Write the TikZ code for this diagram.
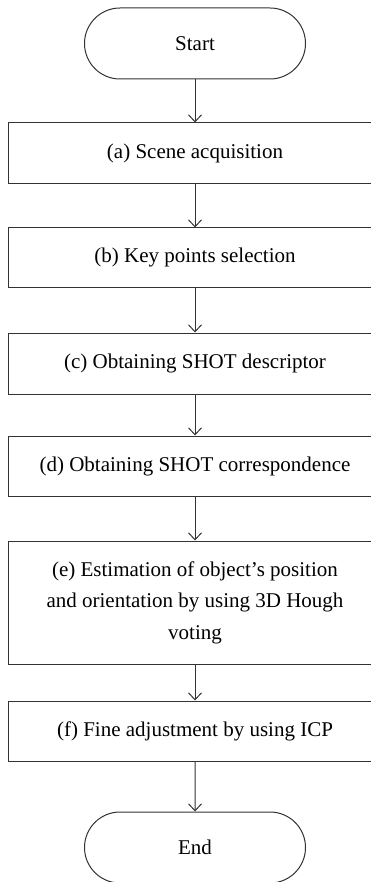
\documentclass[tikz,border=0pt]{standalone}
\usepackage{fontspec}
\setmainfont{Liberation Serif}
\usetikzlibrary{arrows.meta,shapes.misc}

\begin{document}
\begin{tikzpicture}[x=1pt,y=-1pt,font=\fontsize{21}{31.5}\selectfont,
    fase/.style={draw=black!80,line width=1pt,minimum width=374pt,inner sep=0pt,align=center},
    term/.style={draw=black!80,line width=1pt,rounded rectangle,minimum width=221pt,minimum height=71pt,inner sep=0pt},
    freccia/.style={draw=black!80,line width=1pt,-{Straight Barb[length=7pt,width=13pt]}}]
    \useasboundingbox (0,0) rectangle (371,882);
    \node [term] (S) at (195,43.5) {Start}; % inizio
    \node [fase,minimum height=61pt] (a) at (195,153.5) {(a) Scene acquisition};
    \node [fase,minimum height=59pt] (b) at (195,257.5) {(b) Key points selection};
    \node [fase,minimum height=61pt] (c) at (195,363.5) {(c) Obtaining SHOT descriptor};
    \node [fase,minimum height=60pt] (d) at (195,466) {(d) Obtaining SHOT correspondence};
    \node [fase,minimum height=123pt] (e) at (195,602.5)
          {(e) Estimation of object’s position\\and orientation by using 3D Hough\\voting};
    \node [fase,minimum height=60pt] (f) at (195,731) {(f) Fine adjustment by using ICP};
    \node [term] (E) at (195,847.5) {End}; % fine
    % frecce
    \draw [freccia] (S) -- (a);
    \draw [freccia] (a) -- (b);
    \draw [freccia] (b) -- (c);
    \draw [freccia] (c) -- (d);
    \draw [freccia] (d) -- (e);
    \draw [freccia] (e) -- (f);
    \draw [freccia] (f) -- (E);
\end{tikzpicture}
\end{document}
